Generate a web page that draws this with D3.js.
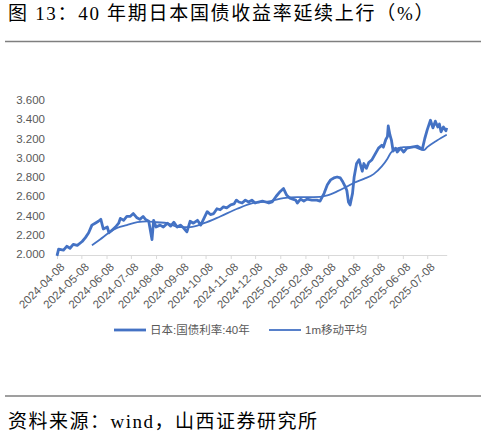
<!DOCTYPE html>
<html>
<head>
<meta charset="utf-8">
<script src="https://cdn.jsdelivr.net/npm/d3@7/dist/d3.min.js"></script>
<style>
  body { margin: 0; background: #fff; }
  #chart svg { display: block; }
</style>
</head>
<body>
<div id="chart"></div>
<script>
// 40y JGB yield
const yieldDates = ["2024-04-08","2024-04-10","2024-04-16","2024-04-20","2024-04-24","2024-04-28","2024-05-03","2024-05-09","2024-05-13","2024-05-17","2024-05-21","2024-05-25","2024-05-29","2024-06-01","2024-06-04","2024-06-09","2024-06-11","2024-06-15","2024-06-19","2024-06-23","2024-06-25","2024-06-29","2024-07-03","2024-07-07","2024-07-11","2024-07-15","2024-07-19","2024-07-23","2024-07-26","2024-07-30","2024-08-03","2024-08-05","2024-08-08","2024-08-13","2024-08-17","2024-08-22","2024-08-26","2024-08-30","2024-09-03","2024-09-07","2024-09-11","2024-09-15","2024-09-19","2024-09-23","2024-09-28","2024-10-02","2024-10-06","2024-10-10","2024-10-14","2024-10-18","2024-10-22","2024-10-26","2024-10-30","2024-11-03","2024-11-08","2024-11-12","2024-11-15","2024-11-18","2024-11-22","2024-11-26","2024-11-30","2024-12-04","2024-12-08","2024-12-12","2024-12-17","2024-12-21","2024-12-25","2024-12-29","2025-01-03","2025-01-08","2025-01-12","2025-01-16","2025-01-20","2025-01-27","2025-01-29","2025-02-02","2025-02-06","2025-02-10","2025-02-16","2025-02-22","2025-02-26","2025-03-03","2025-03-07","2025-03-11","2025-03-15","2025-03-19","2025-03-23","2025-03-26","2025-03-29","2025-03-31","2025-04-02","2025-04-04","2025-04-07","2025-04-09","2025-04-12","2025-04-15","2025-04-17","2025-04-19","2025-04-21","2025-04-24","2025-04-27","2025-05-01","2025-05-05","2025-05-09","2025-05-13","2025-05-15","2025-05-18","2025-05-20","2025-05-21","2025-05-23","2025-05-25","2025-05-27","2025-05-30","2025-06-01","2025-06-05","2025-06-09","2025-06-13","2025-06-19","2025-06-26","2025-07-02","2025-07-05","2025-07-08","2025-07-12","2025-07-15","2025-07-18","2025-07-21","2025-07-23","2025-07-25","2025-07-28","2025-07-31","2025-08-01"]
const yieldValues = [1.98,2.05,2.04,2.08,2.06,2.10,2.09,2.13,2.17,2.22,2.30,2.32,2.34,2.36,2.26,2.28,2.22,2.25,2.28,2.32,2.37,2.35,2.39,2.39,2.42,2.38,2.36,2.39,2.36,2.34,2.15,2.35,2.28,2.30,2.28,2.32,2.29,2.33,2.28,2.30,2.27,2.23,2.34,2.32,2.35,2.30,2.37,2.44,2.41,2.42,2.47,2.46,2.49,2.48,2.51,2.52,2.56,2.54,2.53,2.56,2.54,2.56,2.53,2.54,2.55,2.54,2.53,2.54,2.60,2.65,2.68,2.61,2.58,2.56,2.53,2.57,2.55,2.57,2.56,2.56,2.55,2.63,2.72,2.77,2.79,2.80,2.79,2.75,2.70,2.66,2.54,2.51,2.63,2.80,2.94,2.98,2.92,2.86,2.94,2.89,2.95,2.98,3.04,3.10,3.13,3.11,3.19,3.22,3.33,3.24,3.18,3.07,3.10,3.06,3.10,3.06,3.10,3.11,3.12,3.09,3.20,3.29,3.39,3.31,3.38,3.32,3.35,3.27,3.32,3.28,3.31]

// 1 month moving average
const maDates = ["2024-05-21","2024-05-31","2024-06-11","2024-06-21","2024-07-03","2024-07-16","2024-07-28","2024-08-09","2024-08-22","2024-09-04","2024-09-19","2024-10-06","2024-10-26","2024-11-16","2024-12-06","2024-12-27","2025-01-12","2025-01-29","2025-02-18","2025-03-07","2025-03-19","2025-03-31","2025-04-09","2025-04-21","2025-05-03","2025-05-13","2025-05-20","2025-05-24","2025-05-28","2025-06-09","2025-06-21","2025-07-04","2025-07-08","2025-07-20","2025-08-01"]
const maValues = [2.09,2.15,2.22,2.27,2.30,2.33,2.34,2.33,2.32,2.28,2.28,2.32,2.39,2.47,2.53,2.55,2.58,2.59,2.59,2.61,2.65,2.70,2.74,2.78,2.83,2.91,2.99,3.05,3.08,3.11,3.11,3.08,3.11,3.18,3.24]

const tickDates = ["2024-04-08","2024-05-08","2024-06-08","2024-07-08","2024-08-08","2024-09-08","2024-10-08","2024-11-08","2024-12-08","2025-01-08","2025-02-08","2025-03-08","2025-04-08","2025-05-08","2025-06-08","2025-07-08"]
const yTicks = [2.0,2.2,2.4,2.6,2.8,3.0,3.2,3.4,3.6]
const seriesNames = ["日本:国债利率:40年", "1m移动平均"]

const W = 485, H = 437
const blue = "#4472c4"
const grey = "#595959"
const sans = "'Liberation Sans', Arial, 'Noto Sans CJK SC', sans-serif"
const serif = "'Liberation Serif', 'Times New Roman', 'Noto Sans CJK SC', serif"
const parse = d3.timeParse("%Y-%m-%d")

const svg = d3.select("#chart")
  .append("svg")
    .attr("width", W)
    .attr("height", H)

// title + rules
svg.append("text")
  .attr("x", 8)
  .attr("y", 20)
  .style("font-family", serif)
  .style("font-size", "19px")
  .style("letter-spacing", "1.7px")
  .attr("fill", "#000")
  .text("图 13：40 年期日本国债收益率延续上行（%）")

svg.append("line")
  .attr("x1", 5).attr("x2", 481)
  .attr("y1", 41.5).attr("y2", 41.5)
  .attr("stroke", "#7f7f7f").attr("stroke-width", 1.5)

svg.append("line")
  .attr("x1", 5).attr("x2", 481)
  .attr("y1", 396).attr("y2", 396)
  .attr("stroke", "#7f7f7f").attr("stroke-width", 1.5)

svg.append("text")
  .attr("x", 8)
  .attr("y", 428)
  .style("font-family", serif)
  .style("font-size", "19px")
  .style("letter-spacing", "1.5px")
  .attr("fill", "#000")
  .text("资料来源：wind，山西证券研究所")

// scales
const x = d3.scaleTime()
  .domain([parse("2024-04-08"), parse("2025-08-01")])
  .range([57, 446.7])

const y = d3.scaleLinear()
  .domain([2.0, 3.6])
  .range([254, 100])

// y axis
const yAxis = svg.append("g")
  .attr("transform", "translate(57,0)")
  .call(d3.axisLeft(y).tickValues(yTicks).tickFormat(d3.format(".3f")).tickSize(0).tickPadding(12))
yAxis.select(".domain").remove()
yAxis.selectAll("text")
  .style("font-family", sans)
  .style("font-size", "11.5px")
  .attr("fill", grey)

// x axis
const xAxis = svg.append("g")
  .attr("transform", "translate(0,255)")
  .call(d3.axisBottom(x).tickValues(tickDates.map(parse)).tickFormat(d3.timeFormat("%Y-%m-%d")).tickSize(4).tickSizeOuter(0))
xAxis.select(".domain").attr("stroke", "#d9d9d9")
xAxis.selectAll(".tick line").attr("stroke", "#d9d9d9")
xAxis.selectAll("text")
  .style("font-family", sans)
  .style("font-size", "11.5px")
  .attr("fill", grey)
  .attr("text-anchor", "end")
  .attr("dx", "-0.3em")
  .attr("dy", "0.65em")
  .attr("transform", "rotate(-45)")

// lines
const yieldData = yieldDates.map((d, i) => ({date: parse(d), value: yieldValues[i]}))
const maData = maDates.map((d, i) => ({date: parse(d), value: maValues[i]}))

const line = d3.line()
  .x(d => x(d.date))
  .y(d => y(d.value))

svg.append("path")
  .datum(maData)
  .attr("fill", "none")
  .attr("stroke", blue)
  .attr("stroke-width", 1.8)
  .attr("d", line.curve(d3.curveMonotoneX))

svg.append("path")
  .datum(yieldData)
  .attr("fill", "none")
  .attr("stroke", blue)
  .attr("stroke-width", 2.8)
  .attr("stroke-linejoin", "round")
  .attr("d", line.curve(d3.curveLinear))

// legend
const legend = [
  {name: seriesNames[0], x: 114, w: 2.8},
  {name: seriesNames[1], x: 269, w: 1.8}
]
legend.forEach(l => {
  svg.append("line")
    .attr("x1", l.x).attr("x2", l.x + 32)
    .attr("y1", 330).attr("y2", 330)
    .attr("stroke", blue).attr("stroke-width", l.w)
  svg.append("text")
    .attr("x", l.x + 36)
    .attr("y", 334)
    .style("font-family", sans)
    .style("font-size", "11.5px")
    .attr("fill", grey)
    .text(l.name)
})
</script>
</body>
</html>
